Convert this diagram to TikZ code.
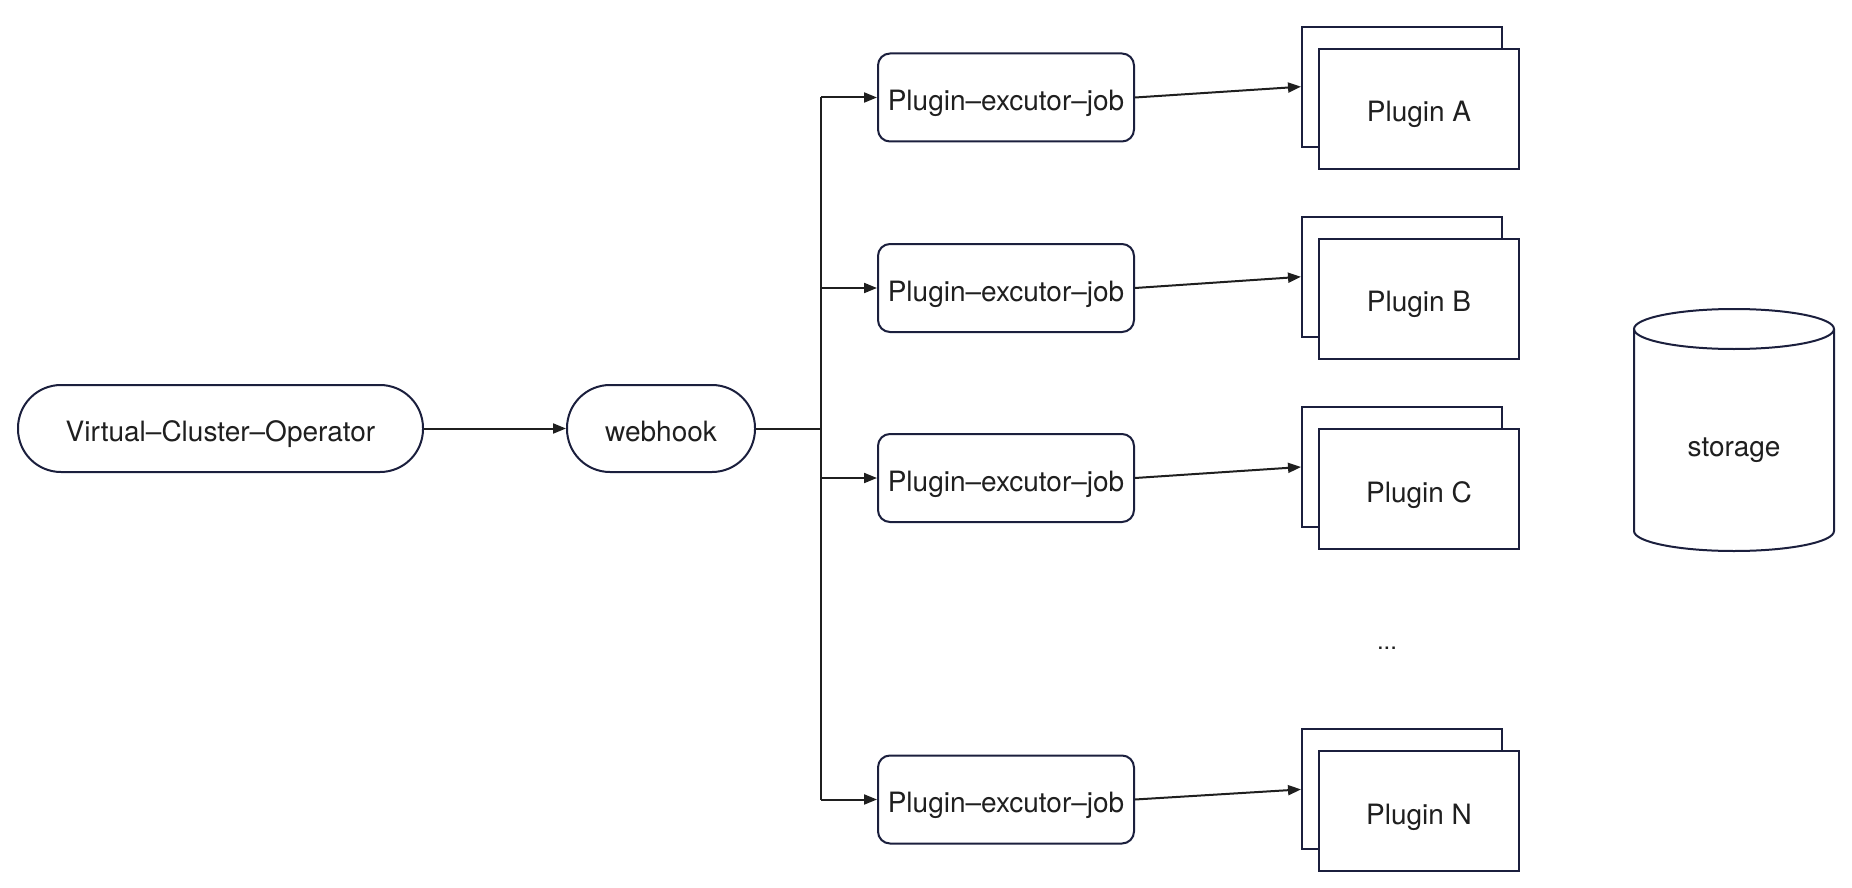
\documentclass[tikz,border=0pt]{standalone}
\usepackage{fontspec}
\setmainfont{TeX Gyre Heros}
\usetikzlibrary{arrows.meta}
\definecolor{navy}{HTML}{1B1F3D}
\definecolor{ink}{HTML}{1F1F1F}
\tikzset{
  base/.style={draw=navy, line width=2pt, text=ink, font=\fontsize{28}{32}\selectfont, fill=white, text height=26pt, text depth=0pt},
  pill/.style={base, rounded corners=43pt, minimum height=87pt},
  jobbox/.style={base, rounded corners=12pt, minimum width=256pt, minimum height=88pt, inner sep=0pt},
  plugbox/.style={base, minimum width=200pt, minimum height=120pt, inner sep=0pt},
  conn/.style={draw=ink, line width=2pt},
  arr/.style={conn, -{Triangle[length=13pt,width=10pt]}}
}
\begin{document}
\begin{tikzpicture}[x=1pt,y=-1pt]
\useasboundingbox (0,0) rectangle (1852,888);
% left nodes
\node[pill, minimum width=405pt] (vco) at (220.5,428.5) {Virtual–Cluster–Operator};
\node[pill, minimum width=188pt] (webhook) at (661,428.5) {webhook};
% jobs
\node[jobbox] (jobA) at (1006,97.5) {Plugin–excutor–job};
\node[jobbox] (jobB) at (1006,288) {Plugin–excutor–job};
\node[jobbox] (jobC) at (1006,478) {Plugin–excutor–job};
\node[jobbox] (jobN) at (1006,799.5) {Plugin–excutor–job};
% plugins (back then front)
\node[plugbox] (backA) at (1402,86.7) {};
\node[plugbox] (plugA) at (1419,108.7) {Plugin A};
\node[plugbox] (backB) at (1402,276.8) {};
\node[plugbox] (plugB) at (1419,298.8) {Plugin B};
\node[plugbox] (backC) at (1402,467) {};
\node[plugbox] (plugC) at (1419,489) {Plugin C};
\node[plugbox] (backN) at (1402,789.4) {};
\node[plugbox] (plugN) at (1419,811.4) {Plugin N};
% dots
\node[text=ink, font=\fontsize{24}{28}\selectfont] (dots) at (1387,648) {...};
% storage cylinder
\draw[draw=navy, line width=2pt, fill=white] (1634,329) -- (1634,531) arc (180:0:100 and 20) -- (1834,329);
\draw[draw=navy, line width=2pt] (1734,329) ellipse (100 and 20);
\node[text=ink, font=\fontsize{28}{32}\selectfont] (storage) at (1734,450) {storage};
% connectors
\coordinate (tA) at (821,97.5);
\coordinate (tB) at (821,288);
\coordinate (tC) at (821,478);
\coordinate (tN) at (821,799.5);
\draw[arr] (vco.east) -- (webhook.west);
\draw[conn] (webhook.east) -- (webhook.east -| tA);
\draw[conn] (tA) -- (tN);
\draw[arr] (tA) -- (jobA.west);
\draw[arr] (tB) -- (jobB.west);
\draw[arr] (tC) -- (jobC.west);
\draw[arr] (tN) -- (jobN.west);
\draw[arr] (jobA.east) -- (backA.west);
\draw[arr] (jobB.east) -- (backB.west);
\draw[arr] (jobC.east) -- (backC.west);
\draw[arr] (jobN.east) -- (backN.west);
\end{tikzpicture}
\end{document}
